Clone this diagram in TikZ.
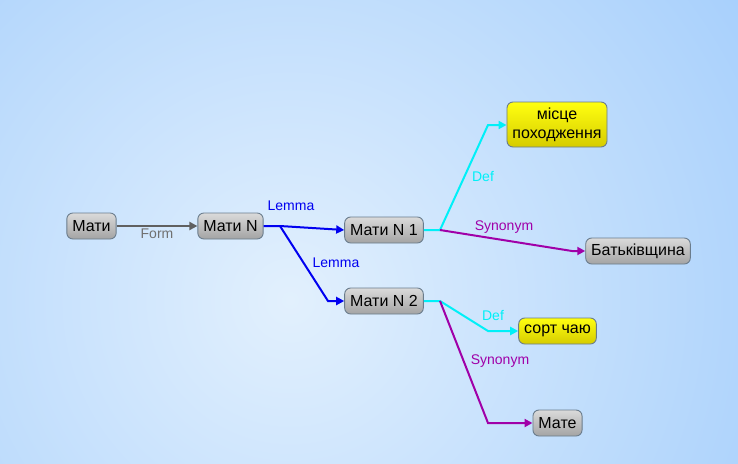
\documentclass[tikz,border=0pt]{standalone}
\usepackage{fontspec}
\setmainfont{Liberation Sans}
\usetikzlibrary{arrows.meta}
\definecolor{bgin}{HTML}{E2F0FD}
\definecolor{bgout}{HTML}{A8D0FC}
\definecolor{nborder}{HTML}{6A7C8C}
\definecolor{ntop}{HTML}{DADADA}
\definecolor{nbot}{HTML}{A4A4A4}
\definecolor{ytop}{HTML}{FFFF10}
\definecolor{ybot}{HTML}{D6CC00}
\definecolor{formc}{HTML}{606060}
\definecolor{formt}{HTML}{707070}
\definecolor{lemc}{HTML}{0000F0}
\definecolor{defc}{HTML}{00F0F8}
\definecolor{sync}{HTML}{A000A8}
\tikzset{
  x=1pt, y=-1pt,
  gnode/.style={draw=nborder, line width=0.9pt, rounded corners=6pt,
    top color=ntop, bottom color=nbot, minimum height=26pt,
    inner xsep=5.5pt, inner ysep=2pt, font=\fontsize{16}{19}\selectfont, text=black},
  ynode/.style={gnode, top color=ytop, bottom color=ybot},
  lbl/.style={font=\fontsize{14}{16}\selectfont, inner sep=1pt},
  conn/.style={line width=2pt, -{Triangle[length=8pt,width=8pt]}},
}
\begin{document}
\begin{tikzpicture}
\useasboundingbox (0,0) rectangle (738,463);
\begin{scope}
\clip (0,0) rectangle (738,463);
\fill[bgout] (0,0) rectangle (738,463);
\shade[inner color=bgin, outer color=bgout] (290,300) circle (540);
\end{scope}

\node[gnode] (mati) at (91.5,226) {Мати};
\node[gnode] (matin) at (230.5,226) {Мати N};
\node[gnode] (n1) at (384,230) {Мати N 1};
\node[gnode] (n2) at (384,301) {Мати N 2};
\node[ynode, minimum height=45pt, align=center, inner ysep=1pt] (mp) at (557,124.5) {місце\\походження};
\node[gnode] (bat) at (638,251) {Батьківщина};
\node[ynode] (sc) at (557.5,331) {сорт чаю};
\node[gnode] (mate) at (557.5,423) {Мате};

\coordinate (j1) at (280,226);
\coordinate (j2) at (440,230);
\coordinate (j3) at (440,301);
\coordinate (b1) at (488,125);
\coordinate (b2) at (572,251);
\coordinate (b3) at (488,331);
\coordinate (b4) at (488,423);

\draw[conn, formc] (mati) -- (matin);
\node[lbl, text=formt] (lform) at (157,234) {Form};

\draw[conn, lemc] (matin.east) -- (j1) -- (n1.west);
\draw[conn, lemc] (j1) -- (328,301) -- (n2.west);
\node[lbl, text=lemc] (llem1) at (291,206) {Lemma};
\node[lbl, text=lemc] (llem2) at (336,263) {Lemma};

\draw[conn, defc] (n1.east) -- (j2) -- (b1) -- (b1 -| mp.west);
\draw[conn, sync] (j2) -- (b2) -- (bat.west);
\node[lbl, text=defc] (ldef1) at (483,177) {Def};
\node[lbl, text=sync] (lsyn1) at (504,227) {Synonym};

\draw[conn, defc] (n2.east) -- (j3) -- (b3) -- (sc.west);
\draw[conn, sync] (j3) -- (b4) -- (mate.west);
\node[lbl, text=defc] (ldef2) at (493,315) {Def};
\node[lbl, text=sync] (lsyn2) at (500,361) {Synonym};
\end{tikzpicture}
\end{document}
